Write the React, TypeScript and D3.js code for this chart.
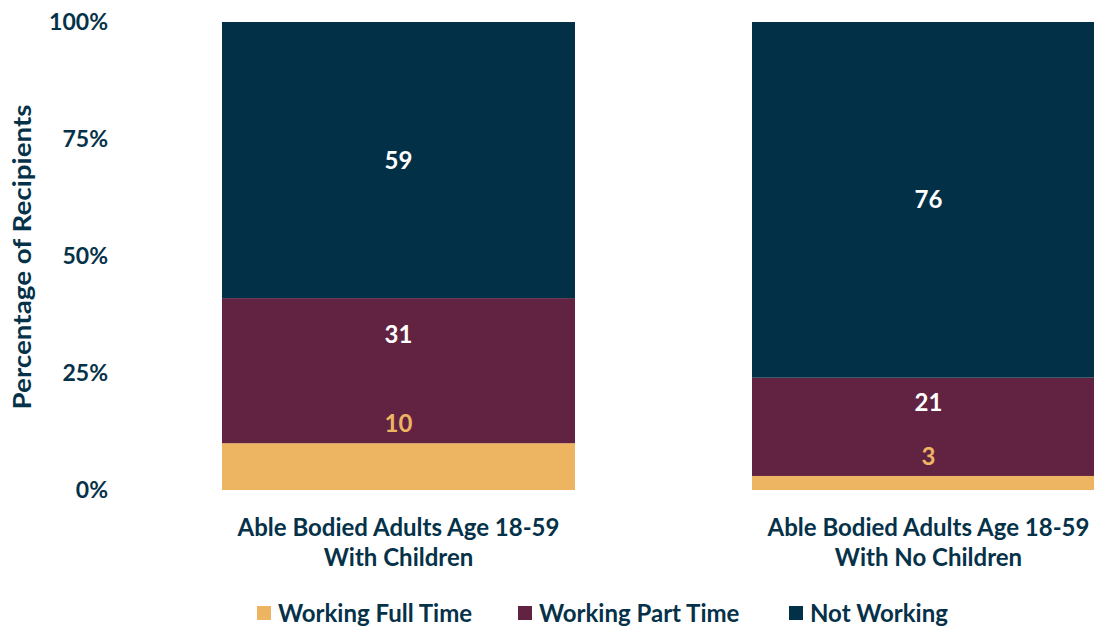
import React from "react";
import * as d3 from "d3";

const WIDTH = 1094;
const HEIGHT = 627;

const categories = [
  ["Able Bodied Adults Age 18-59", "With Children"],
  ["Able Bodied Adults Age 18-59", "With No Children"],
];
const seriesNames = ["Working Full Time", "Working Part Time", "Not Working"];
const fullTime = [10, 3];
const partTime = [31, 21];
const notWorking = [59, 76];
const yTicks = [0, 25, 50, 75, 100];

const COLORS = ["#EDB562", "#612341", "#023047"];
const TEXT = "#063249";
const FONT = "Lato, 'Open Sans', sans-serif";

export default function App() {
  const y = d3.scaleLinear().domain([0, 100]).range([490, 22]);
  const x = d3
    .scaleBand<number>()
    .domain(categories.map((_, i) => i))
    .range([222, 1105])
    .paddingInner(0.334)
    .paddingOuter(0);

  const table = categories.map((c, i) => ({
    idx: i,
    v0: fullTime[i],
    v1: partTime[i],
    v2: notWorking[i],
  }));
  const stack = d3.stack<any>().keys(["v0", "v1", "v2"]);
  const layers = stack(table);

  // where each value label sits, relative to its segment
  const labelY = (k: number, lo: number, hi: number) => {
    if (k === 0) return y(hi) - 20;
    if (k === 1) return y(lo + (hi - lo) * 0.75);
    return y((lo + hi) / 2);
  };

  return (
    <div style={{ position: "absolute", left: 0, top: 0, width: WIDTH, height: HEIGHT, overflow: "hidden" }}>
      <svg width={WIDTH} height={HEIGHT} style={{ display: "block", fontFamily: FONT }}>
        {/* y axis labels */}
        {yTicks.map((t) => (
          <text
            key={t}
            x={108}
            y={y(t)}
            dy="0.36em"
            textAnchor="end"
            fontSize={23}
            fontWeight={700}
            fill={TEXT}
          >
            {t}%
          </text>
        ))}
        <text
          transform={`translate(22,${y(50) + 1}) rotate(-90)`}
          textAnchor="middle"
          dy="0.36em"
          fontSize={25}
          fontWeight={700}
          fill={TEXT}
          textLength={305}
          lengthAdjust="spacingAndGlyphs"
        >
          Percentage of Recipients
        </text>

        {/* bars */}
        {layers.map((layer, k) =>
          layer.map((d, i) => (
            <rect
              key={`${k}-${i}`}
              x={x(i)}
              y={y(d[1])}
              width={x.bandwidth()}
              height={y(d[0]) - y(d[1])}
              fill={COLORS[k]}
            />
          ))
        )}

        {/* value labels */}
        {layers.map((layer, k) =>
          layer.map((d, i) => (
            <text
              key={`l${k}-${i}`}
              x={(x(i) as number) + x.bandwidth() / 2}
              y={labelY(k, d[0], d[1])}
              dy="0.36em"
              textAnchor="middle"
              fontSize={24}
              fontWeight={700}
              fill={k === 0 ? COLORS[0] : "#ffffff"}
            >
              {d[1] - d[0]}
            </text>
          ))
        )}

        {/* category labels */}
        {categories.map((lines, i) => (
          <text
            key={`c${i}`}
            x={(x(i) as number) + x.bandwidth() / 2}
            y={527}
            textAnchor="middle"
            fontSize={24}
            fontWeight={700}
            fill={TEXT}
          >
            {lines.map((ln, j) => (
              <tspan key={j} x={(x(i) as number) + x.bandwidth() / 2} y={527 + j * 30} dy="0.36em">
                {ln}
              </tspan>
            ))}
          </text>
        ))}

        {/* legend */}
        {seriesNames.map((name, k) => {
          const lx = [257, 518, 789][k];
          return (
            <g key={name} transform={`translate(${lx},613)`}>
              <rect x={0} y={-7} width={14} height={14} fill={COLORS[k]} />
              <text x={21} dy="0.36em" fontSize={24} fontWeight={700} fill={TEXT}>
                {name}
              </text>
            </g>
          );
        })}
      </svg>
    </div>
  );
}
